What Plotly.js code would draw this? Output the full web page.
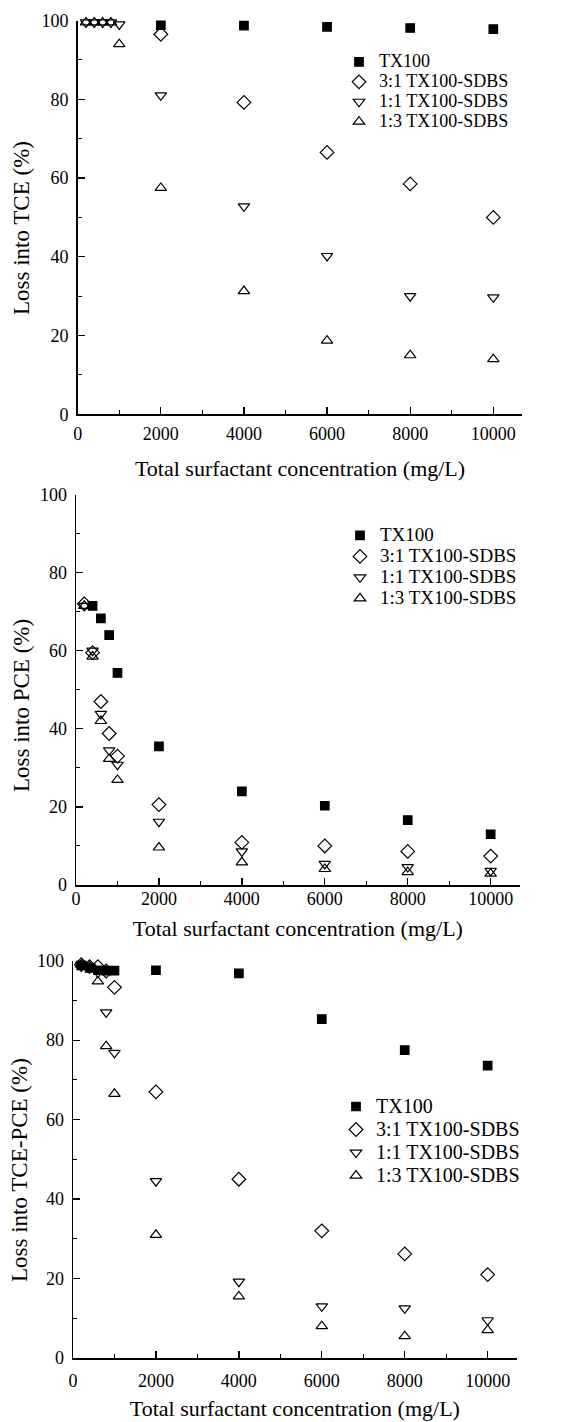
<!DOCTYPE html>
<html>
<head>
<meta charset="utf-8">
<script src="https://cdn.plot.ly/plotly-3.0.1.min.js"></script>
<style>
html,body{margin:0;padding:0;background:#fff;}
#chart{width:565px;height:1422px;}
</style>
</head>
<body>
<div id="chart"></div>
<script>
// ---------- data ----------
const seriesNames = ["TX100", "3:1 TX100-SDBS", "1:1 TX100-SDBS", "1:3 TX100-SDBS"];
const xTickVals = [0, 2000, 4000, 6000, 8000, 10000];
const yTickVals = [0, 20, 40, 60, 80, 100];
const xAxisTitle = "Total surfactant concentration (mg/L)";
const yTitleTCE = "Loss into TCE (%)";
const yTitlePCE = "Loss into PCE (%)";
const yTitleMix = "Loss into TCE-PCE (%)";

// Panel 1: loss into TCE
const tce_tx100_x = [2000, 4000, 6000, 8000, 10000];
const tce_tx100_y = [98.8, 98.7, 98.4, 98.1, 97.8];
const tce_31_x = [2000, 4000, 6000, 8000, 10000];
const tce_31_y = [96.5, 79.2, 66.5, 58.5, 50.0];
const tce_11_x = [200, 400, 600, 800, 1000, 2000, 4000, 6000, 8000, 10000];
const tce_11_y = [99.5, 99.5, 99.5, 99.5, 99.0, 81.0, 52.8, 40.2, 30.0, 29.7];
const tce_13_x = [200, 400, 600, 800, 1000, 2000, 4000, 6000, 8000, 10000];
const tce_13_y = [99.5, 99.5, 99.5, 99.5, 94.0, 57.5, 31.3, 18.7, 15.0, 14.0];

// Panel 2: loss into PCE
const pce_tx100_x = [400, 600, 800, 1000, 2000, 4000, 6000, 8000, 10000];
const pce_tx100_y = [71.5, 68.3, 64.0, 54.3, 35.5, 24.0, 20.3, 16.6, 13.0];
const pce_31_x = [200, 400, 600, 800, 1000, 2000, 4000, 6000, 8000, 10000];
const pce_31_y = [72.0, 59.5, 47.0, 38.8, 33.0, 20.6, 10.9, 10.0, 8.6, 7.4];
const pce_11_x = [200, 400, 600, 800, 1000, 2000, 4000, 6000, 8000, 10000];
const pce_11_y = [71.5, 60.0, 43.8, 34.5, 30.8, 16.2, 8.6, 5.4, 4.6, 3.6];
const pce_13_x = [200, 400, 600, 800, 1000, 2000, 4000, 6000, 8000, 10000];
const pce_13_y = [71.5, 58.5, 42.0, 32.3, 26.9, 9.6, 5.8, 4.1, 3.3, 2.9];

// Panel 3: loss into TCE-PCE
const mix_tx100_x = [200, 400, 600, 800, 1000, 2000, 4000, 6000, 8000, 10000];
const mix_tx100_y = [98.8, 98.2, 97.6, 97.5, 97.5, 97.6, 96.8, 85.3, 77.5, 73.6];
const mix_31_x = [200, 400, 600, 800, 1000, 2000, 4000, 6000, 8000, 10000];
const mix_31_y = [99.0, 98.5, 98.5, 97.4, 93.3, 67.0, 45.0, 32.0, 26.2, 21.0];
const mix_11_x = [200, 400, 600, 800, 1000, 2000, 4000, 6000, 8000, 10000];
const mix_11_y = [99.0, 98.5, 97.0, 87.0, 76.8, 44.5, 19.2, 13.0, 12.5, 9.5];
const mix_13_x = [200, 400, 600, 800, 1000, 2000, 4000, 6000, 8000, 10000];
const mix_13_y = [99.0, 98.5, 94.8, 78.5, 66.5, 31.0, 15.5, 8.0, 5.5, 7.0];

// ---------- styling ----------
const FONT = "Liberation Serif, Times New Roman, serif";
const symbols = ["square", "diamond-open", "triangle-down-open", "triangle-up-open"];
const sizes = [8.5, 10.5, 10, 10];

function mk(x, y, i, xa, ya, leg, textSize) {
  return {
    type: "scatter", mode: "markers", x: x, y: y,
    name: '<span style="font-size:' + textSize + 'px">' + seriesNames[i] + '</span>',
    xaxis: xa, yaxis: ya, legend: leg,
    cliponaxis: false,
    marker: {symbol: symbols[i], size: sizes[i], color: "#000",
             line: {color: "#000", width: 1.2}}
  };
}

const data = [
  mk(tce_tx100_x, tce_tx100_y, 0, "x", "y", "legend", 18),
  mk(tce_31_x, tce_31_y, 1, "x", "y", "legend", 18),
  mk(tce_11_x, tce_11_y, 2, "x", "y", "legend", 18),
  mk(tce_13_x, tce_13_y, 3, "x", "y", "legend", 18),
  mk(pce_tx100_x, pce_tx100_y, 0, "x2", "y2", "legend2", 19),
  mk(pce_31_x, pce_31_y, 1, "x2", "y2", "legend2", 19),
  mk(pce_11_x, pce_11_y, 2, "x2", "y2", "legend2", 19),
  mk(pce_13_x, pce_13_y, 3, "x2", "y2", "legend2", 19),
  mk(mix_tx100_x, mix_tx100_y, 0, "x3", "y3", "legend3", 20),
  mk(mix_31_x, mix_31_y, 1, "x3", "y3", "legend3", 20),
  mk(mix_11_x, mix_11_y, 2, "x3", "y3", "legend3", 20),
  mk(mix_13_x, mix_13_y, 3, "x3", "y3", "legend3", 20)
];

const W = 565, H = 1422;
function xa(left, right, anchor, labelStandoff, titleStandoff) {
  return {
    anchor: anchor,
    domain: [left / W, right / W], range: [0, 10700],
    showline: true, linecolor: "#000", linewidth: 1.5, mirror: false,
    showgrid: false, zeroline: false,
    ticks: "inside", ticklen: 7, tickwidth: 1.3, tickcolor: "#000",
    tickmode: "array", tickvals: xTickVals, ticktext: xTickVals.map(String),
    minor: {dtick: 1000, tick0: 0, ticks: "inside", ticklen: 4, tickwidth: 1, tickcolor: "#000", showgrid: false},
    tickfont: {family: FONT, size: 18, color: "#000"},
    ticklabelstandoff: labelStandoff,
    title: {text: xAxisTitle, font: {family: FONT, size: 22, color: "#000"}, standoff: titleStandoff},
    automargin: false, fixedrange: true
  };
}
function ya(bottom, top, anchor) {
  return {
    anchor: anchor,
    domain: [1 - bottom / H, 1 - top / H], range: [0, 100],
    showline: true, linecolor: "#000", linewidth: 1.5, mirror: false,
    showgrid: false, zeroline: false,
    ticks: "inside", ticklen: 7, tickwidth: 1.3, tickcolor: "#000",
    tickmode: "array", tickvals: yTickVals, ticktext: yTickVals.map(String),
    minor: {dtick: 10, tick0: 0, ticks: "inside", ticklen: 4, tickwidth: 1, tickcolor: "#000", showgrid: false},
    tickfont: {family: FONT, size: 18, color: "#000"},
    ticklabelstandoff: 4,
    automargin: false, fixedrange: true
  };
}

function leg(xpx, ypx, size) {
  return {x: xpx / W, y: 1 - ypx / H, xanchor: "left", yanchor: "top",
          bgcolor: "rgba(0,0,0,0)", borderwidth: 0,
          font: {family: FONT, size: size, color: "#000"},
          itemwidth: 30, tracegroupgap: 0};
}

function yTitle(text, xpx, ypx) {
  return {text: text, xref: "paper", yref: "paper", x: xpx / W, y: 1 - ypx / H,
          xanchor: "center", yanchor: "middle", textangle: -90, showarrow: false,
          font: {family: FONT, size: 23, color: "#000"}};
}

const layout = {
  width: W, height: H,
  margin: {l: 0, r: 0, t: 0, b: 0},
  paper_bgcolor: "#fff", plot_bgcolor: "#fff",
  font: {family: FONT, color: "#000"},
  showlegend: true,
  xaxis: xa(77.7, 522.4, "y", 3, 17),
  yaxis: ya(414.3, 20.5, "x"),
  xaxis2: xa(76, 519.7, "y2", -3, 12),
  yaxis2: ya(885, 494.5, "x2"),
  xaxis3: xa(73, 516.7, "y3", 6, 10),
  yaxis3: ya(1358, 960.7, "x3"),
  legend: leg(339, 47, 13),
  legend2: leg(340, 520, 13.8),
  legend3: leg(336, 1090, 15.4),
  annotations: [
    yTitle(yTitleTCE, 21, 228),
    yTitle(yTitlePCE, 21, 706),
    yTitle(yTitleMix, 19, 1170)
  ]
};

Plotly.newPlot("chart", data, layout, {displayModeBar: false, staticPlot: true});
</script>
</body>
</html>
